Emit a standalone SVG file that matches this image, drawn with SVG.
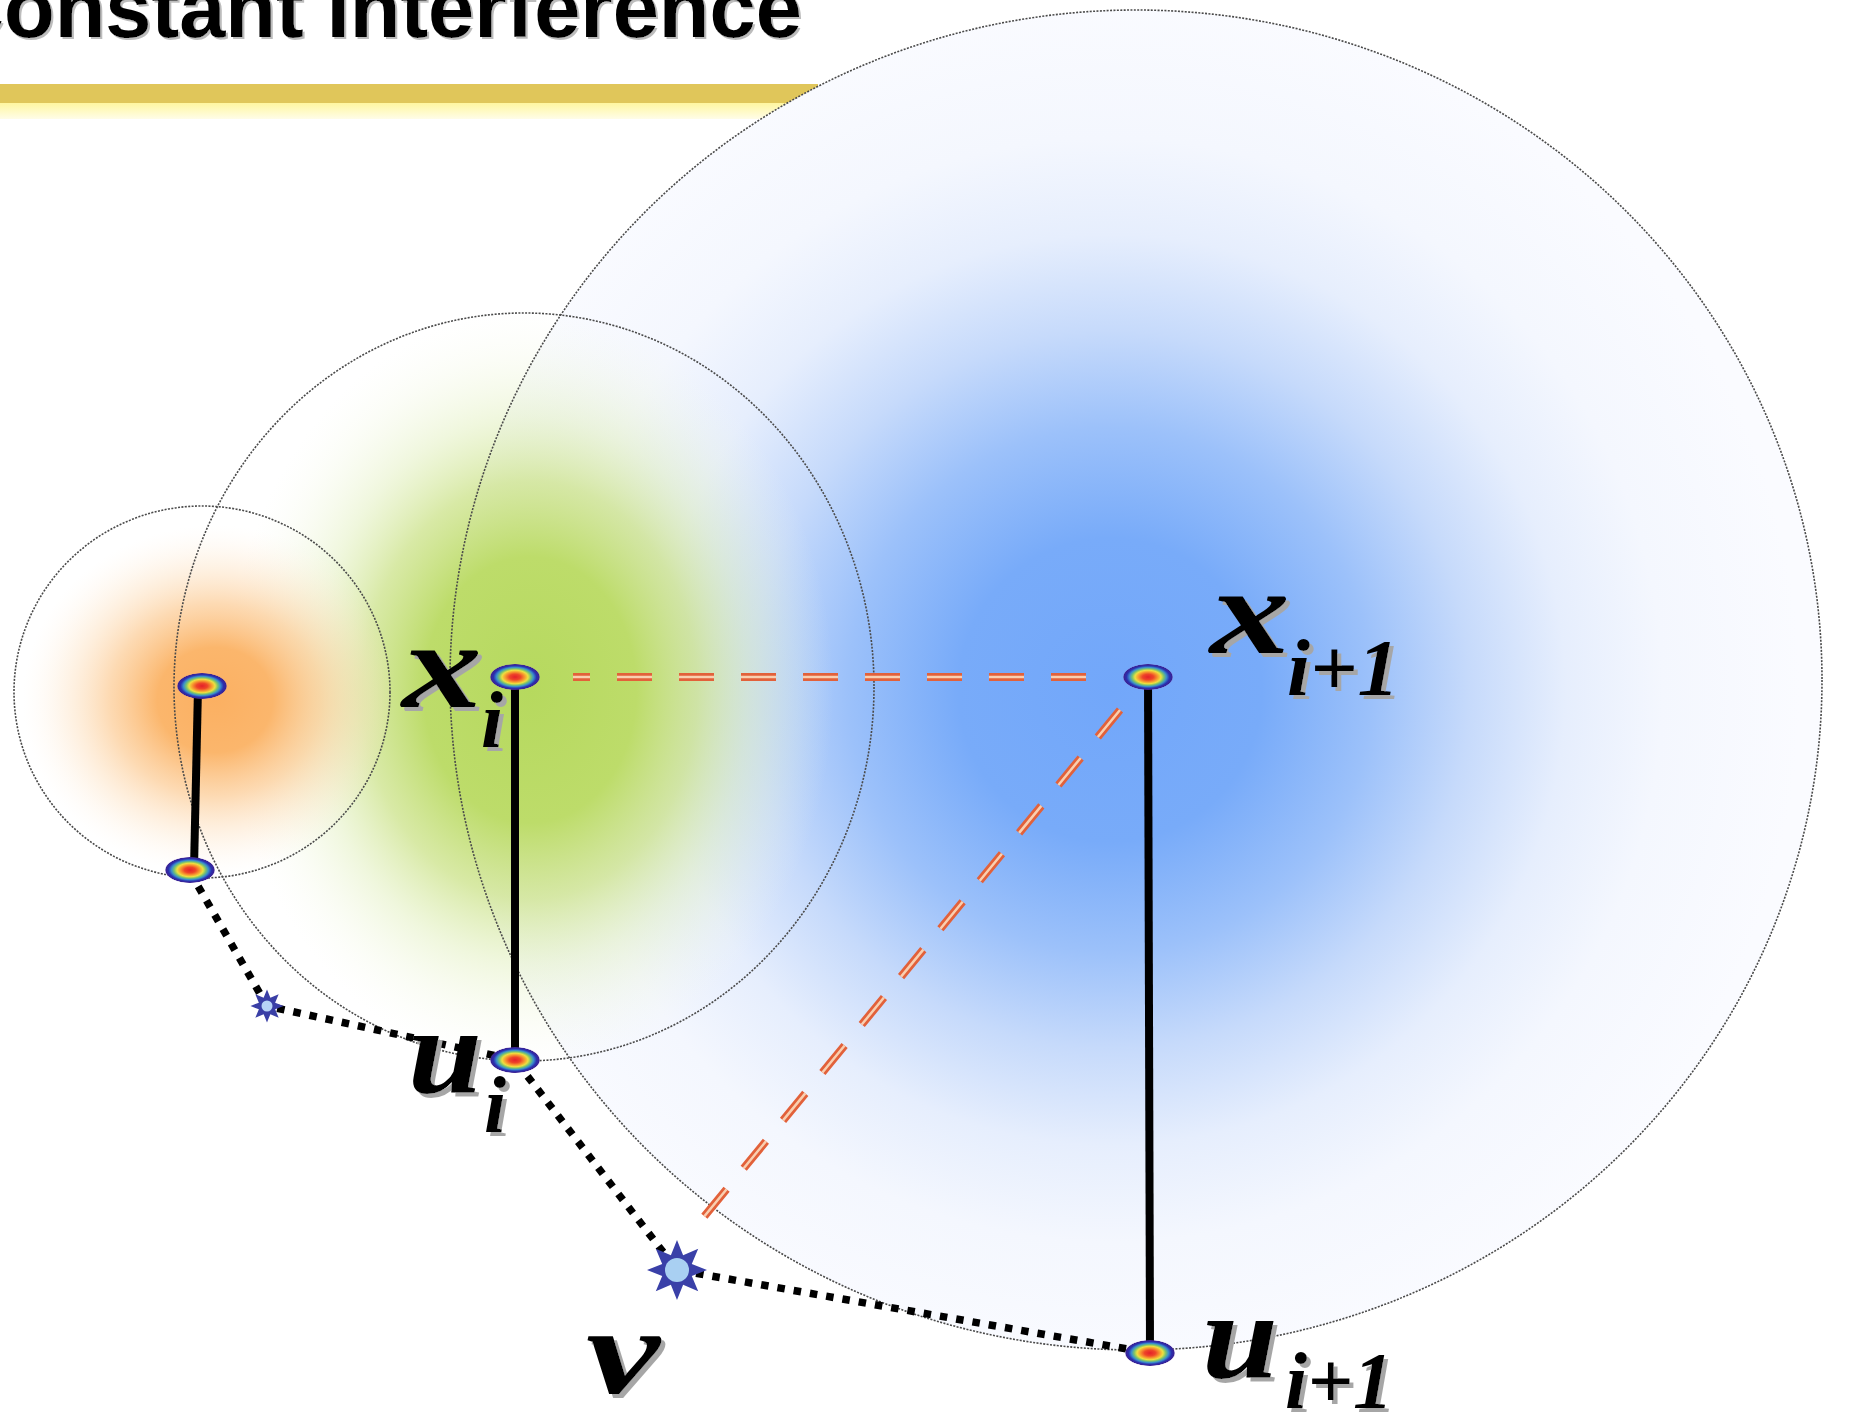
<svg xmlns="http://www.w3.org/2000/svg" width="1849" height="1421" viewBox="0 0 1849 1421">
<defs>
<style>
.title{font-family:"Liberation Sans",Arial,sans-serif;font-weight:bold;font-size:83px}
.lbl{font-family:"Liberation Serif","DejaVu Serif",serif;font-style:italic;font-weight:bold;fill:#000}
.big{font-size:122px}
.sub{font-size:80px}
.ring{fill:none;stroke:#4a4a4a;stroke-width:1.6;stroke-dasharray:2 1.4}
.solid{stroke:#000;stroke-width:8;fill:none}
.dots{stroke:#000;stroke-width:7.5;stroke-dasharray:7.5 9;fill:none}
.redo{stroke:#e2613a;stroke-width:8;stroke-dasharray:35 27;fill:none}
.redi{stroke:#f9cfb0;stroke-width:2.5;stroke-dasharray:35 27;fill:none}
</style>
<filter id="sh" x="-20%" y="-20%" width="150%" height="150%">
<feOffset in="SourceAlpha" dx="4" dy="4" result="o"/>
<feFlood flood-color="#a6a6a6"/>
<feComposite in2="o" operator="in" result="s"/>
<feMerge><feMergeNode in="s"/><feMergeNode in="SourceGraphic"/></feMerge>
</filter>
<filter id="tsh" x="-5%" y="-20%" width="110%" height="150%">
<feOffset in="SourceAlpha" dx="2" dy="2" result="o"/>
<feFlood flood-color="#bcbcbc"/>
<feComposite in2="o" operator="in" result="s"/>
<feMerge><feMergeNode in="s"/><feMergeNode in="SourceGraphic"/></feMerge>
</filter>
<radialGradient id="gBlue" gradientUnits="userSpaceOnUse" cx="1110" cy="690" r="690">
<stop offset="0" stop-color="#72a7fa"/>
<stop offset="0.22" stop-color="#78abf9"/>
<stop offset="0.38" stop-color="#9cc1fa"/>
<stop offset="0.52" stop-color="#c6dafb"/>
<stop offset="0.66" stop-color="#e6eefd"/>
<stop offset="0.8" stop-color="#f4f7fe"/>
<stop offset="1" stop-color="#fafbff"/>
</radialGradient>
<radialGradient id="gGreen" gradientUnits="userSpaceOnUse" cx="530" cy="690" r="380" gradientTransform="translate(530 690) scale(0.8 1) translate(-530 -690)">
<stop offset="0" stop-color="#b6d95e" stop-opacity="1"/>
<stop offset="0.35" stop-color="#bddc6a" stop-opacity="1"/>
<stop offset="0.55" stop-color="#cbe288" stop-opacity="0.75"/>
<stop offset="0.72" stop-color="#ddedb4" stop-opacity="0.45"/>
<stop offset="0.88" stop-color="#edf5d6" stop-opacity="0.2"/>
<stop offset="1" stop-color="#f5f9ea" stop-opacity="0"/>
</radialGradient>
<radialGradient id="gOrange" gradientUnits="userSpaceOnUse" cx="215" cy="700" r="175" gradientTransform="translate(215 700) scale(1.1 1) translate(-215 -700)">
<stop offset="0" stop-color="#fbb062" stop-opacity="1"/>
<stop offset="0.3" stop-color="#fbb66c" stop-opacity="1"/>
<stop offset="0.55" stop-color="#fcca92" stop-opacity="0.7"/>
<stop offset="0.8" stop-color="#fde3c4" stop-opacity="0.35"/>
<stop offset="1" stop-color="#fff3e6" stop-opacity="0"/>
</radialGradient>
<radialGradient id="gNode" cx="0.5" cy="0.5" r="0.5">
<stop offset="0" stop-color="#e4202a"/>
<stop offset="0.22" stop-color="#ee4528"/>
<stop offset="0.4" stop-color="#f7a030"/>
<stop offset="0.52" stop-color="#eee040"/>
<stop offset="0.63" stop-color="#7cc46c"/>
<stop offset="0.74" stop-color="#3a8fcc"/>
<stop offset="0.86" stop-color="#2a30b0"/>
<stop offset="0.96" stop-color="#3a2294"/>
<stop offset="1" stop-color="#6a50b0" stop-opacity="0.4"/>
</radialGradient>
<linearGradient id="gBar" x1="0" y1="0" x2="0" y2="1">
<stop offset="0" stop-color="#fff6a0"/>
<stop offset="1" stop-color="#fffde8"/>
</linearGradient>
<path id="star" d="M0,-30 L6.12,-14.78 L21.21,-21.21 L14.78,-6.12 L30,0 L14.78,6.12 L21.21,21.21 L6.12,14.78 L0,30 L-6.12,14.78 L-21.21,21.21 L-14.78,6.12 L-30,0 L-14.78,-6.12 L-21.21,-21.21 L-6.12,-14.78 Z"/>
<ellipse id="node" rx="25" ry="13" fill="url(#gNode)"/>
</defs>
<rect width="1849" height="1421" fill="#fff"/>
<g id="header">
<rect x="0" y="84" width="818" height="19" fill="#e0c65a"/>
<rect x="0" y="103" width="802" height="16" fill="url(#gBar)"/>
<text class="title" x="-56" y="37" fill="#000" filter="url(#tsh)">Constant Interference</text>
</g>
<g id="ranges">
<ellipse cx="1136" cy="680" rx="686" ry="670" fill="url(#gBlue)"/>
<ellipse cx="524" cy="687" rx="350" ry="374" fill="url(#gGreen)"/>
<ellipse cx="202" cy="692" rx="188" ry="186" fill="url(#gOrange)"/>
<ellipse class="ring" cx="1136" cy="680" rx="686" ry="670"/>
<ellipse class="ring" cx="524" cy="687" rx="350" ry="374"/>
<ellipse class="ring" cx="202" cy="692" rx="188" ry="186"/>
</g>
<g id="connectors">
<line class="redo" x1="1086" y1="677" x2="573" y2="677"/>
<line class="redi" x1="1086" y1="677" x2="573" y2="677"/>
<line class="redo" x1="1120" y1="710" x2="698" y2="1224"/>
<line class="redi" x1="1120" y1="710" x2="698" y2="1224"/>
<line class="solid" x1="198" y1="688" x2="194" y2="868"/>
<line class="solid" x1="515" y1="680" x2="515" y2="1058"/>
<line class="solid" x1="1148" y1="680" x2="1150" y2="1350"/>
<polyline class="dots" points="190,872 267,1006 515,1060 677,1270 1150,1353"/>
</g>
<g id="node-a"><use href="#node" x="202" y="686"/></g>
<g id="node-b"><use href="#node" x="190" y="870"/></g>
<g id="node-xi"><use href="#node" x="515" y="677"/></g>
<g id="node-ui"><use href="#node" x="515" y="1060"/></g>
<g id="node-xi1"><use href="#node" x="1148" y="677"/></g>
<g id="node-ui1"><use href="#node" x="1150" y="1353"/></g>
<g id="star-small" transform="translate(267 1006) scale(0.55)"><use href="#star" fill="#3a3fa6"/><circle r="10" fill="#b8d4f6"/></g>
<g id="star-v" transform="translate(677 1270)"><use href="#star" fill="#3a40a8"/><circle r="12" fill="#a9d0f2"/></g>
<g id="labels" filter="url(#sh)">
<text class="lbl"><tspan class="big" x="402" y="707" textLength="80" lengthAdjust="spacingAndGlyphs">x</tspan><tspan class="sub" x="481" y="747">i</tspan></text>
<text class="lbl"><tspan class="big" x="1210" y="653" textLength="80" lengthAdjust="spacingAndGlyphs">x</tspan><tspan class="sub" x="1287" y="695" textLength="112" lengthAdjust="spacingAndGlyphs">i+1</tspan></text>
<text class="lbl"><tspan class="big" x="408" y="1093" textLength="74" lengthAdjust="spacingAndGlyphs">u</tspan><tspan class="sub" x="484" y="1132">i</tspan></text>
<text class="lbl"><tspan class="big" x="586" y="1393" textLength="74" lengthAdjust="spacingAndGlyphs">v</tspan></text>
<text class="lbl"><tspan class="big" x="1202" y="1378" textLength="76" lengthAdjust="spacingAndGlyphs">u</tspan><tspan class="sub" x="1285" y="1408" textLength="108" lengthAdjust="spacingAndGlyphs">i+1</tspan></text>
</g>
</svg>
